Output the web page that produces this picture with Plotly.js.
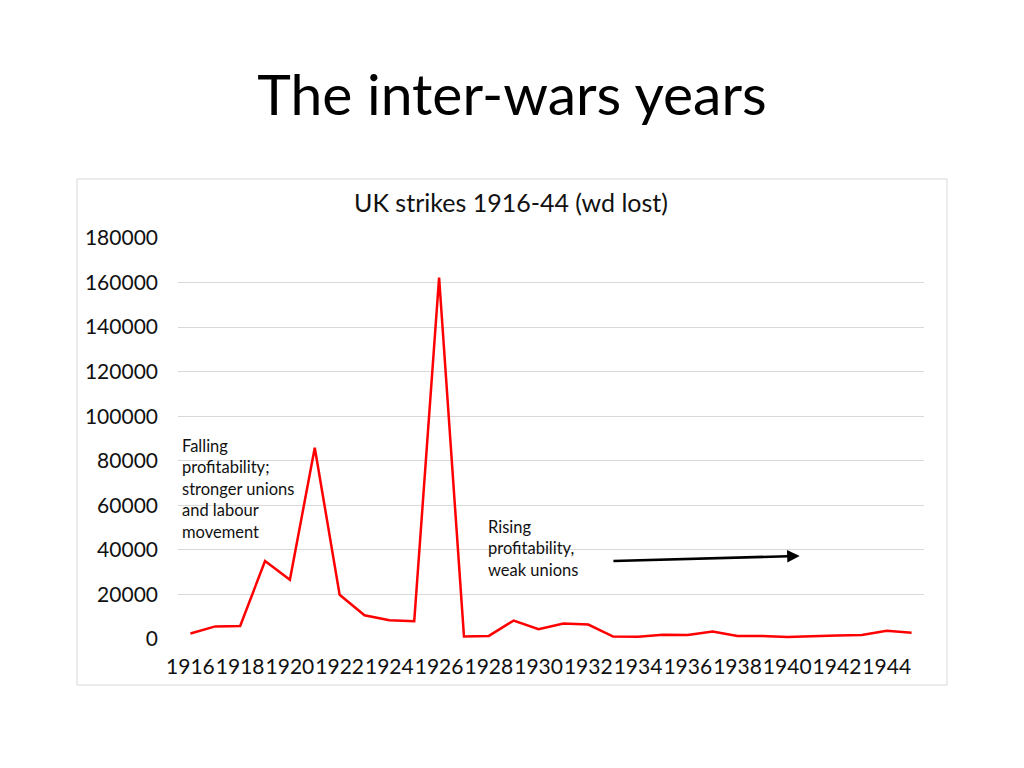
<!DOCTYPE html>
<html>
<head>
<meta charset="utf-8">
<script src="https://cdn.plot.ly/plotly-3.0.1.min.js"></script>
<style>
html,body{margin:0;padding:0;background:#fff;}
#chart{width:1024px;height:768px;}
</style>
</head>
<body>
<div id="chart"></div>
<script>
const years = [1916,1917,1918,1919,1920,1921,1922,1923,1924,1925,1926,1927,1928,1929,1930,
               1931,1932,1933,1934,1935,1936,1937,1938,1939,1940,1941,1942,1943,1944,1945];
const daysLost = [2446,5647,5875,34969,26568,85872,19850,10672,8424,7952,162233,1174,1388,8287,4399,
                  6983,6488,1072,959,1955,1829,3413,1334,1356,940,1079,1527,1808,3714,2835];
const tickYears = [1916,1918,1920,1922,1924,1926,1928,1930,1932,1934,1936,1938,1940,1942,1944];
const yTicks = [0,20000,40000,60000,80000,100000,120000,140000,160000,180000];

const FONT = 'Lato, "Open Sans", sans-serif';

const trace = {
  x: years, y: daysLost, type: 'scatter', mode: 'lines',
  line: {color: '#ff0000', width: 2.5},
  hoverinfo: 'x+y'
};

const layout = {
  width: 1024, height: 768,
  margin: {l: 178, r: 100, t: 238, b: 129},
  paper_bgcolor: '#ffffff', plot_bgcolor: '#ffffff',
  showlegend: false,
  font: {family: FONT, color: '#111'},
  title: {
    text: 'The inter-wars years',
    font: {family: FONT, size: 57, color: '#000'},
    x: 0.5, xanchor: 'center', xref: 'container',
    y: 0.902, yanchor: 'top', yref: 'container'
  },
  xaxis: {
    type: 'linear', range: [1915.5, 1945.5],
    tickmode: 'array', tickvals: tickYears, ticktext: tickYears.map(String),
    tickangle: 0, automargin: false,
    showgrid: false, zeroline: false, showline: false, ticks: '',
    tickfont: {family: FONT, size: 21, color: '#111'},
    ticklabelstandoff: 13, fixedrange: true
  },
  yaxis: {
    range: [0, 180000], automargin: false,
    tickmode: 'array', tickvals: yTicks, ticktext: yTicks.map(String),
    showgrid: true, gridcolor: '#d9d9d9', gridwidth: 1,
    zeroline: false, showline: false, ticks: '',
    tickfont: {family: FONT, size: 21, color: '#111'},
    ticklabelstandoff: 19, fixedrange: true
  },
  shapes: [
    {type: 'rect', xref: 'paper', yref: 'paper',
     x0: -0.1354, x1: 1.0308, y0: -0.1147, y1: 1.1471,
     line: {color: '#d9d9d9', width: 1}, fillcolor: 'rgba(0,0,0,0)', layer: 'below'}
  ],
  annotations: [
    {text: 'UK strikes 1916-44 (wd lost)', xref: 'paper', yref: 'paper',
     x: 0.4464, y: 1.091, xanchor: 'center', yanchor: 'middle', showarrow: false,
     font: {family: FONT, size: 25, color: '#111'}},
    {text: 'Falling<br>profitability;<br>stronger unions<br>and labour<br>movement',
     x: 1915.58, y: 92000, xref: 'x', yref: 'y', xanchor: 'left', yanchor: 'top',
     align: 'left', showarrow: false,
     font: {family: FONT, size: 16.5, color: '#111'}},
    {text: 'Rising<br>profitability,<br>weak unions',
     x: 1927.88, y: 55600, xref: 'x', yref: 'y', xanchor: 'left', yanchor: 'top',
     align: 'left', showarrow: false,
     font: {family: FONT, size: 16.5, color: '#111'}},
    {text: '', x: 1940.5, y: 37300, xref: 'x', yref: 'y',
     ax: 1932.95, ay: 35000, axref: 'x', ayref: 'y',
     showarrow: true, arrowhead: 2, arrowsize: 1, arrowwidth: 2.5, arrowcolor: '#000'}
  ]
};

Plotly.newPlot('chart', [trace], layout, {displayModeBar: false, staticPlot: true});
</script>
</body>
</html>
